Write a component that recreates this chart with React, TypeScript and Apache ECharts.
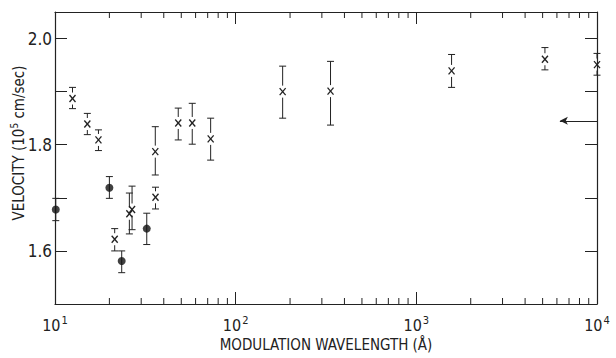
import React, { useEffect, useRef } from "react";
import * as echarts from "echarts";

// ---- data ----
const crossLambda = [12.5, 15.1, 17.4, 21.4, 25.8, 26.7, 35.9, 36.0, 48.1, 57.5, 72.7, 182, 335, 1567, 5150, 10000];
const crossV = [1.887, 1.839, 1.809, 1.622, 1.670, 1.678, 1.787, 1.701, 1.841, 1.841, 1.811, 1.900, 1.901, 1.939, 1.961, 1.951];
const crossLo = [1.868, 1.819, 1.789, 1.600, 1.632, 1.640, 1.743, 1.679, 1.809, 1.801, 1.771, 1.850, 1.837, 1.908, 1.941, 1.931];
const crossHi = [1.908, 1.859, 1.828, 1.642, 1.709, 1.722, 1.834, 1.720, 1.869, 1.878, 1.850, 1.948, 1.957, 1.970, 1.983, 1.972];

const dotLambda = [10.1, 20, 23.4, 32.2];
const dotV = [1.678, 1.719, 1.581, 1.642];
const dotLo = [1.657, 1.699, 1.559, 1.612];
const dotHi = [1.699, 1.740, 1.600, 1.671];

const arrowFrom = 6230;
const arrowValue = 1.845;

const xMin = 10;
const xMax = 10000;
const yMin = 1.5;
const yMax = 2.05;
const yInterval = 0.1;
const yTickLabels = ["1.6", "1.8", "2.0"];
const xMinorTicks = [20, 30, 40, 50, 60, 70, 80, 90, 200, 300, 400, 500, 600, 700, 800, 900, 2000, 3000, 4000, 5000, 6000, 7000, 8000, 9000];

const FONT = '"Liberation Sans Narrow", "DejaVu Sans Condensed", "Liberation Sans", sans-serif';
const INK = "#222";

export default function App() {
  const ref = useRef<HTMLDivElement>(null);
  useEffect(() => {
    if (!ref.current) return;
    const chart = echarts.init(ref.current, null, { renderer: "svg" });

    const barData = [
      ...crossLambda.map((l, i) => [l, crossLo[i], crossHi[i], crossV[i], 0]),
      ...dotLambda.map((l, i) => [l, dotLo[i], dotHi[i], dotV[i], 1]),
    ];

    const lineStyle = { stroke: INK, lineWidth: 1 };

    const option: any = {
      animation: false,
      backgroundColor: "#fff",
      grid: { left: 55, right: 19, top: 12, bottom: 54, containLabel: false, outerBoundsMode: "none" },
      graphic: [
        {
          type: "text",
          x: 19,
          y: 143,
          rotation: Math.PI / 2,
          silent: true,
          style: {
            text: "{a|VELOCITY (10}{s|5}{a| cm/sec)}",
            align: "center",
            verticalAlign: "middle",
            rich: {
              a: { fontFamily: FONT, fontSize: 15, fill: INK, color: INK },
              s: { fontFamily: FONT, fontSize: 10, fill: INK, color: INK, padding: [0, 0, 9, 0] },
            },
          },
        },
      ],
      xAxis: [
        {
          type: "log",
          logBase: 10,
          min: xMin,
          max: xMax,
          position: "bottom",
          name: "MODULATION WAVELENGTH (Å)",
          nameLocation: "middle",
          nameGap: 29,
          nameTextStyle: { fontFamily: FONT, fontSize: 15, color: INK },
          axisLine: { show: true, lineStyle: { color: INK, width: 1.2 } },
          axisTick: { show: true, inside: true, length: 12, lineStyle: { color: INK, width: 1 } },
          splitLine: { show: false },
          axisLabel: {
            margin: 11,
            formatter: (v: number) => `{a|10}{s|${Math.round(Math.log10(v))}}`,
            rich: {
              a: { fontFamily: FONT, fontSize: 16, color: INK },
              s: { fontFamily: FONT, fontSize: 11, color: INK, padding: [0, 0, 9, 1] },
            },
          },
        },
        {
          type: "log",
          logBase: 10,
          min: xMin,
          max: xMax,
          position: "top",
          axisLine: { show: true, lineStyle: { color: INK, width: 1.2 } },
          axisTick: { show: true, inside: true, length: 12, lineStyle: { color: INK, width: 1 } },
          axisLabel: { show: false },
          splitLine: { show: false },
        },
      ],
      yAxis: [
        {
          type: "value",
          min: yMin,
          max: yMax,
          interval: yInterval,
          position: "left",
          axisLine: { show: true, lineStyle: { color: INK, width: 1.2 } },
          axisTick: { show: true, inside: true, length: 12, lineStyle: { color: INK, width: 1 } },
          splitLine: { show: false },
          axisLabel: {
            margin: 3,
            fontFamily: FONT,
            fontSize: 17,
            color: INK,
            formatter: (v: number) => {
              const s = v.toFixed(1);
              return yTickLabels.includes(s) && Math.abs(v - parseFloat(s)) < 1e-6 ? s : "";
            },
          },
        },
        {
          type: "value",
          min: yMin,
          max: yMax,
          interval: yInterval,
          position: "right",
          axisLine: { show: true, lineStyle: { color: INK, width: 1.2 } },
          axisTick: { show: true, inside: true, length: 12, lineStyle: { color: INK, width: 1 } },
          axisLabel: { show: false },
          splitLine: { show: false },
        },
      ],
      series: [
        {
          type: "custom",
          xAxisIndex: 0,
          yAxisIndex: 0,
          clip: false,
          silent: true,
          data: xMinorTicks.map((v) => [v]),
          renderItem: (params: any, api: any) => {
            const x = api.value(0);
            const b = api.coord([x, yMin]);
            const t = api.coord([x, yMax]);
            return {
              type: "group",
              children: [
                { type: "line", shape: { x1: b[0], y1: b[1], x2: b[0], y2: b[1] - 6 }, style: lineStyle },
                { type: "line", shape: { x1: t[0], y1: t[1], x2: t[0], y2: t[1] + 6 }, style: lineStyle },
              ],
            };
          },
        },
        {
          type: "custom",
          xAxisIndex: 0,
          yAxisIndex: 0,
          clip: false,
          silent: true,
          data: barData,
          renderItem: (params: any, api: any) => {
            const x = api.value(0);
            const lo = api.value(1);
            const hi = api.value(2);
            const v = api.value(3);
            const kind = api.value(4);
            const pT = api.coord([x, hi]);
            const pB = api.coord([x, lo]);
            const pC = api.coord([x, v]);
            const cw = 3.5;
            const children: any[] = [
              { type: "line", shape: { x1: pT[0] - cw, y1: pT[1], x2: pT[0] + cw, y2: pT[1] }, style: lineStyle },
              { type: "line", shape: { x1: pB[0] - cw, y1: pB[1], x2: pB[0] + cw, y2: pB[1] }, style: lineStyle },
            ];
            if (kind === 0) {
              const g = 6;
              if (pC[1] - g > pT[1])
                children.push({ type: "line", shape: { x1: pT[0], y1: pT[1], x2: pT[0], y2: pC[1] - g }, style: lineStyle });
              if (pC[1] + g < pB[1])
                children.push({ type: "line", shape: { x1: pB[0], y1: pC[1] + g, x2: pB[0], y2: pB[1] }, style: lineStyle });
              const hx = 3, hy = 3.5;
              children.push({ type: "line", shape: { x1: pC[0] - hx, y1: pC[1] - hy, x2: pC[0] + hx, y2: pC[1] + hy }, style: { stroke: INK, lineWidth: 1.3 } });
              children.push({ type: "line", shape: { x1: pC[0] - hx, y1: pC[1] + hy, x2: pC[0] + hx, y2: pC[1] - hy }, style: { stroke: INK, lineWidth: 1.3 } });
            } else {
              children.push({ type: "line", shape: { x1: pT[0], y1: pT[1], x2: pB[0], y2: pB[1] }, style: lineStyle });
            }
            return { type: "group", children };
          },
        },
        {
          type: "scatter",
          xAxisIndex: 0,
          yAxisIndex: 0,
          silent: true,
          symbol: "circle",
          symbolSize: 8,
          itemStyle: { color: "#111" },
          data: dotLambda.map((l, i) => [l, dotV[i]]),
          markLine: {
            silent: true,
            animation: false,
            symbolSize: [6, 8],
            label: { show: false },
            lineStyle: { color: INK, width: 1.2, type: "solid" },
            data: [
              [
                { coord: [arrowFrom, arrowValue], symbol: "arrow" },
                { coord: [xMax, arrowValue], symbol: "none" },
              ],
            ],
          },
        },
      ],
    };

    chart.setOption(option);
    return () => chart.dispose();
  }, []);

  return (
    <div
      ref={ref}
      style={{ position: "fixed", left: 0, top: 0, width: 616, height: 358, background: "#fff" }}
    />
  );
}
